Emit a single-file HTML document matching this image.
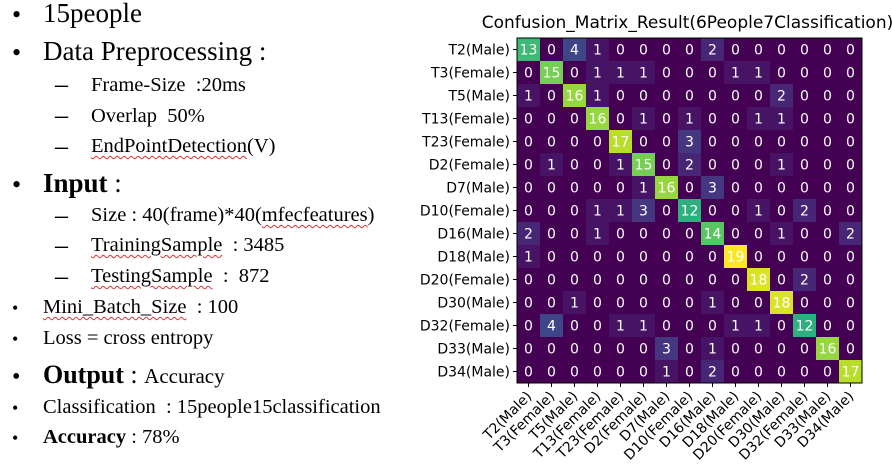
<!DOCTYPE html>
<html><head><meta charset="utf-8"><style>
body{margin:0;width:892px;height:466px;background:#fff;overflow:hidden;position:relative;font-family:"Liberation Serif",serif;color:#000}
.l{position:absolute;white-space:nowrap;line-height:1}
.u{text-decoration:underline wavy #d33;text-decoration-thickness:1px;text-underline-offset:3px}
.d{font-weight:bold;transform:scaleX(1.3);transform-origin:left}
</style></head><body>
<div>
<div class="l" style="left:12px;top:2px;font-size:26px">•</div><div class="l" style="left:43px;top:0px;font-size:27px">15people</div>
<div class="l" style="left:12px;top:40px;font-size:26px">•</div><div class="l" style="left:43px;top:38px;font-size:27px">Data Preprocessing :</div>
<div class="l d" style="left:55px;top:75px;font-size:20px">–</div><div class="l" style="left:91px;top:75px;font-size:20.5px">Frame-Size &nbsp;:20ms</div>
<div class="l d" style="left:55px;top:106px;font-size:20px">–</div><div class="l" style="left:91px;top:106px;font-size:20.5px">Overlap &nbsp;50%</div>
<div class="l d" style="left:55px;top:137px;font-size:20px">–</div><div class="l" style="left:91px;top:136px;font-size:20.5px"><span class="u">EndPointDetection</span>(V)</div>
<div class="l" style="left:12px;top:172px;font-size:26px">•</div><div class="l" style="left:43px;top:170px;font-size:27px"><b>Input</b> :</div>
<div class="l d" style="left:55px;top:206px;font-size:20px">–</div><div class="l" style="left:91px;top:205px;font-size:20.5px">Size : 40(frame)*40(<span class="u">mfecfeatures</span>)</div>
<div class="l d" style="left:55px;top:236px;font-size:20px">–</div><div class="l" style="left:91px;top:235px;font-size:20.5px"><span class="u">TrainingSample</span> &nbsp;: 3485</div>
<div class="l d" style="left:55px;top:267px;font-size:20px">–</div><div class="l" style="left:91px;top:266px;font-size:20.5px"><span class="u">TestingSample</span> &nbsp;: &nbsp;872</div>
<div class="l" style="left:12px;top:299px;font-size:18px">•</div><div class="l" style="left:43px;top:297px;font-size:20.5px"><span class="u">Mini_Batch_Size</span> &nbsp;: 100</div>
<div class="l" style="left:12px;top:330px;font-size:18px">•</div><div class="l" style="left:43px;top:328px;font-size:20.5px">Loss = cross entropy</div>
<div class="l" style="left:12px;top:365px;font-size:24px">•</div><div class="l" style="left:43px;top:362px;font-size:26px"><b>Output</b> : <span style="font-size:21px">Accuracy</span></div>
<div class="l" style="left:12px;top:399px;font-size:18px">•</div><div class="l" style="left:43px;top:397px;font-size:20.5px">Classification &nbsp;: 15people15classification</div>
<div class="l" style="left:12px;top:429px;font-size:18px">•</div><div class="l" style="left:43px;top:427px;font-size:20.5px"><b>Accuracy</b> : 78%</div>
</div>
<svg id="chart" width="892" height="466" style="position:absolute;left:0;top:0"></svg>
<script>
const labels=["T2(Male)","T3(Female)","T5(Male)","T13(Female)","T23(Female)","D2(Female)","D7(Male)","D10(Female)","D16(Male)","D18(Male)","D20(Female)","D30(Male)","D32(Female)","D33(Male)","D34(Male)"];
const row0=[13,0,4,1,0,0,0,0,2,0,0,0,0,0,0];
const row1=[0,15,0,1,1,1,0,0,0,1,1,0,0,0,0];
const row2=[1,0,16,1,0,0,0,0,0,0,0,2,0,0,0];
const row3=[0,0,0,16,0,1,0,1,0,0,1,1,0,0,0];
const row4=[0,0,0,0,17,0,0,3,0,0,0,0,0,0,0];
const row5=[0,1,0,0,1,15,0,2,0,0,0,1,0,0,0];
const row6=[0,0,0,0,0,1,16,0,3,0,0,0,0,0,0];
const row7=[0,0,0,1,1,3,0,12,0,0,1,0,2,0,0];
const row8=[2,0,0,1,0,0,0,0,14,0,0,1,0,0,2];
const row9=[1,0,0,0,0,0,0,0,0,19,0,0,0,0,0];
const row10=[0,0,0,0,0,0,0,0,0,0,18,0,2,0,0];
const row11=[0,0,1,0,0,0,0,0,1,0,0,18,0,0,0];
const row12=[0,4,0,0,1,1,0,0,0,1,1,0,12,0,0];
const row13=[0,0,0,0,0,0,3,0,1,0,0,0,0,16,0];
const row14=[0,0,0,0,0,0,1,0,2,0,0,0,0,0,17];
const matrix=[row0,row1,row2,row3,row4,row5,row6,row7,row8,row9,row10,row11,row12,row13,row14];

const NS="http://www.w3.org/2000/svg";
const svg=document.getElementById('chart');
const X0=517,Y0=38,SIZE=345,n=labels.length,cs=SIZE/n;
const xs=i=>X0+i*cs, ys=i=>Y0+i*cs;
let vmax=0;matrix.forEach(r=>r.forEach(v=>{if(v>vmax)vmax=v;}));
const stops=[[68,1,84],[72,40,120],[62,74,137],[49,104,142],[38,130,142],[31,158,137],[53,183,121],[109,205,89],[180,222,44],[253,231,37]];
function viridis(t){t=Math.max(0,Math.min(1,t));const p=t*(stops.length-1),i=Math.min(Math.floor(p),stops.length-2),f=p-i;
const c=stops[i].map((a,k)=>Math.round(a+(stops[i+1][k]-a)*f));return `rgb(${c})`;}
function mk(tag,attrs){const e=document.createElementNS(NS,tag);for(const k in attrs)e.setAttribute(k,attrs[k]);svg.appendChild(e);return e;}
const title=mk('text',{x:X0+SIZE/2-2,y:28,'text-anchor':'middle','font-size':'17','font-family':'DejaVu Sans, sans-serif'});
title.textContent='Confusion_Matrix_Result(6People7Classification)';


matrix.forEach((r,i)=>r.forEach((v,j)=>{
 const c=mk('rect',{x:xs(j),y:ys(i),width:cs+0.5,height:cs+0.5,fill:viridis(v/vmax)});
 
 
 const t=mk('text',{x:xs(j)+cs/2,y:ys(i)+cs/2+5,'text-anchor':'middle','font-size':'14','font-family':'DejaVu Sans, sans-serif',fill:'#fff'});
 t.textContent=v;
 
 
}));
const fr=mk('rect',{x:X0,y:Y0,width:SIZE,height:SIZE,fill:'none',stroke:'#000','stroke-width':'1'});


labels.forEach((l,i)=>{
 mk('line',{x1:X0-4,x2:X0,y1:ys(i)+cs/2,y2:ys(i)+cs/2,stroke:'#000'});
 const yl=mk('text',{x:X0-7,y:ys(i)+cs/2+5,'text-anchor':'end','font-size':'14','font-family':'DejaVu Sans, sans-serif'});
 yl.textContent=l;
 
 
 const x=xs(i)+cs/2;
 mk('line',{x1:x,x2:x,y1:Y0+SIZE,y2:Y0+SIZE+4,stroke:'#000'});
 const xl=mk('text',{x:x+4,y:Y0+SIZE+14,'text-anchor':'end','font-size':'14','font-family':'DejaVu Sans, sans-serif',transform:`rotate(-45 ${x+4} ${Y0+SIZE+14})`});
 xl.textContent=l;
 
 
});
</script>
</body></html>
